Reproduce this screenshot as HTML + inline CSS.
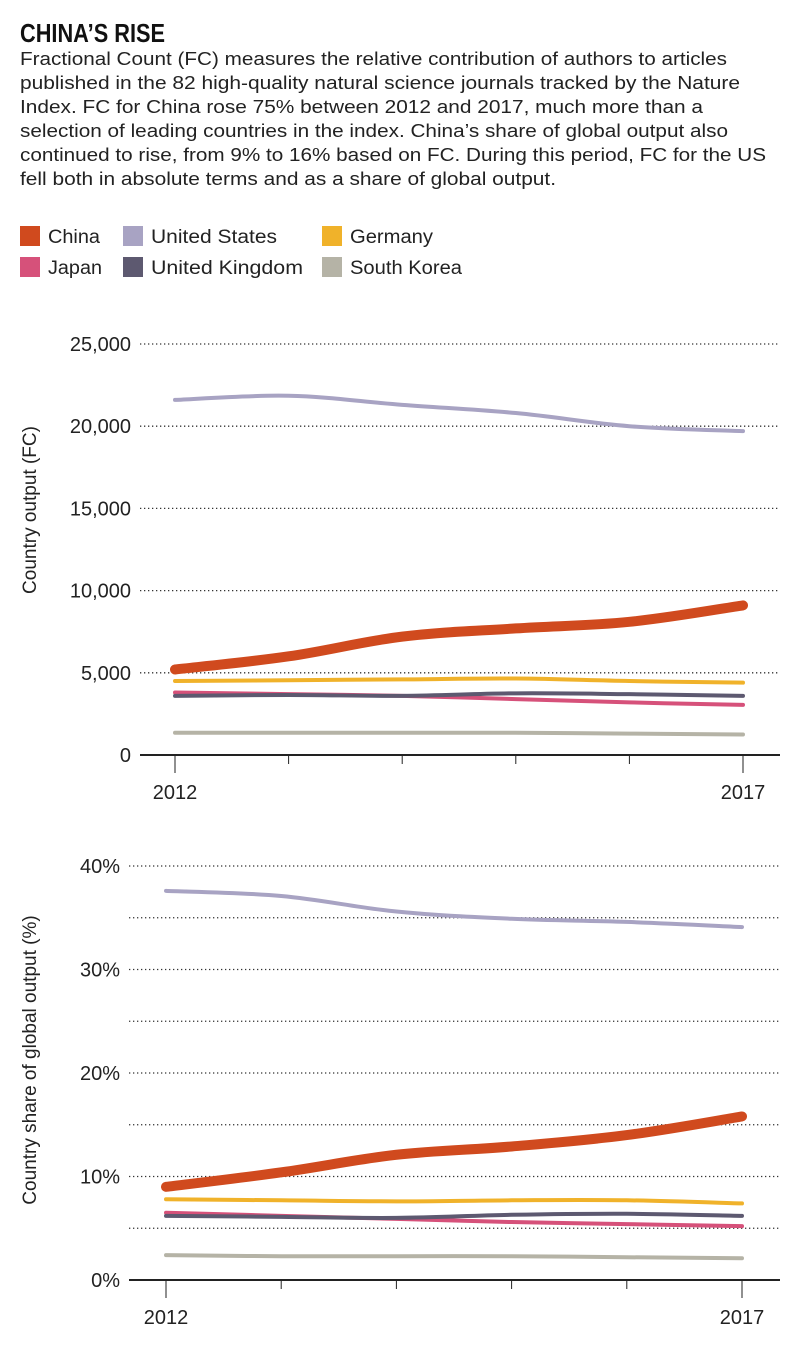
<!DOCTYPE html>
<html><head><meta charset="utf-8">
<style>
html,body{margin:0;padding:0;background:#fff;}
svg{display:block;}
text{font-family:"Liberation Sans",sans-serif;fill:#222;}
</style></head>
<body>
<svg id="chart" width="800" height="1345" viewBox="0 0 800 1345" xmlns="http://www.w3.org/2000/svg">
<g>
<text x="20" y="42" font-size="26" font-weight="bold" textLength="145" lengthAdjust="spacingAndGlyphs" style="fill:#111">CHINA’S RISE</text>
<g font-size="18">
<text x="20" y="65" textLength="707" lengthAdjust="spacingAndGlyphs">Fractional Count (FC) measures the relative contribution of authors to articles</text>
<text x="20" y="89" textLength="720" lengthAdjust="spacingAndGlyphs">published in the 82 high-quality natural science journals tracked by the Nature</text>
<text x="20" y="113" textLength="683" lengthAdjust="spacingAndGlyphs">Index. FC for China rose 75% between 2012 and 2017, much more than a</text>
<text x="20" y="137" textLength="708" lengthAdjust="spacingAndGlyphs">selection of leading countries in the index. China’s share of global output also</text>
<text x="20" y="161" textLength="746" lengthAdjust="spacingAndGlyphs">continued to rise, from 9% to 16% based on FC. During this period, FC for the US</text>
<text x="20" y="185" textLength="536" lengthAdjust="spacingAndGlyphs">fell both in absolute terms and as a share of global output.</text>
</g>
</g>
<g id="legend" font-size="19"></g>
<g id="c1"></g>
<g id="c2"></g>
</svg>
<script>
const years = [2012, 2013, 2014, 2015, 2016, 2017];
const seriesNames = ["South Korea", "Japan", "United Kingdom", "Germany", "United States", "China"];
const seriesKeys = ["korea", "japan", "uk", "germany", "us", "china"];
const outKorea = [1350, 1350, 1350, 1350, 1300, 1250];
const outJapan = [3800, 3700, 3600, 3400, 3200, 3050];
const outUK = [3600, 3650, 3600, 3750, 3700, 3600];
const outGermany = [4500, 4550, 4600, 4650, 4500, 4400];
const outUS = [21600, 21850, 21300, 20800, 20000, 19700];
const outChina = [5200, 6000, 7200, 7700, 8100, 9100];
const shareKorea = [2.4, 2.3, 2.3, 2.3, 2.2, 2.1];
const shareJapan = [6.5, 6.2, 5.9, 5.6, 5.4, 5.2];
const shareUK = [6.2, 6.1, 6.0, 6.3, 6.4, 6.2];
const shareGermany = [7.8, 7.7, 7.6, 7.7, 7.7, 7.4];
const shareUS = [37.6, 37.1, 35.6, 34.9, 34.6, 34.1];
const shareChina = [9.0, 10.4, 12.1, 12.9, 14.0, 15.8];
const outTicks = [0, 5000, 10000, 15000, 20000, 25000];
const outTickLabels = ["0", "5,000", "10,000", "15,000", "20,000", "25,000"];
const shareGrid = [5, 10, 15, 20, 25, 30, 35, 40];
const shareTicks = [0, 10, 20, 30, 40];
const shareTickLabels = ["0%", "10%", "20%", "30%", "40%"];

const colors = {korea:"#b5b3a6", japan:"#d6517a", uk:"#5d5970", germany:"#f0b22a", us:"#a8a3c3", china:"#d04a1e"};
const widths = {korea:4, japan:4, uk:4, germany:4, us:4, china:10};
const NS = "http://www.w3.org/2000/svg";
function mk(tag, attrs, parent){const e=document.createElementNS(NS,tag);for(const k in attrs)e.setAttribute(k,attrs[k]);parent.appendChild(e);return e;}

const legendItems = [["china","China",20,226,52],["us","United States",123,226,126],["germany","Germany",322,226,83],["japan","Japan",20,257,54],["uk","United Kingdom",123,257,152],["korea","South Korea",322,257,112]];
const lg = document.getElementById("legend");
legendItems.forEach(it=>{
  const g = mk("g",{},lg);
  
  
  mk("rect",{x:it[2],y:it[3],width:20,height:20,fill:colors[it[0]]},g);
  const t = mk("text",{x:it[2]+28,y:it[3]+17,textLength:it[4],lengthAdjust:"spacingAndGlyphs"},g);
  t.textContent = it[1];
});

function smoothPath(pts){
  let d = "M"+pts[0][0]+","+pts[0][1];
  for(let i=0;i<pts.length-1;i++){
    const p0=pts[Math.max(i-1,0)],p1=pts[i],p2=pts[i+1],p3=pts[Math.min(i+2,pts.length-1)];
    const t=0.18;
    const c1x=p1[0]+(p2[0]-p0[0])*t,c1y=p1[1]+(p2[1]-p0[1])*t;
    const c2x=p2[0]-(p3[0]-p1[0])*t,c2y=p2[1]-(p3[1]-p1[1])*t;
    d+=" C"+c1x+","+c1y+" "+c2x+","+c2y+" "+p2[0]+","+p2[1];
  }
  return d;
}

function drawChart(root, cfg){
  const xS = v => cfg.x0 + (v-years[0])/(years[years.length-1]-years[0])*(cfg.x1-cfg.x0);
  const yS = v => cfg.yb - v/cfg.ymax*(cfg.yb-cfg.yt);
  cfg.grid.forEach(v=>{
    if(v===0) return;
    const l = mk("line",{x1:cfg.gl,x2:780,y1:yS(v),y2:yS(v),stroke:"#333","stroke-width":1.3,"stroke-dasharray":"1.3 2.7"},root);
    
    
  });
  cfg.ticks.forEach((v,i)=>{
    const t = mk("text",{x:cfg.lx,y:yS(v)+7,"text-anchor":"end","font-size":20},root);
    
    
    t.textContent = cfg.labels[i];
  });
  const ax = mk("line",{x1:cfg.gl,x2:780,y1:cfg.yb,y2:cfg.yb,stroke:"#222","stroke-width":2},root);
  
  
  years.forEach((y,i)=>{
    const long = (i===0||i===years.length-1);
    const tk = mk("line",{x1:xS(y),x2:xS(y),y1:cfg.yb,y2:cfg.yb+(long?18:9),stroke:"#222","stroke-width":1},root);
    
    
    if(long){
      const t = mk("text",{x:xS(y),y:cfg.yb+44,"text-anchor":"middle","font-size":20},root);
      
      
      t.textContent = y;
    }
  });
  const yt = mk("text",{transform:"translate("+cfg.tx+","+cfg.ty+") rotate(-90)","text-anchor":"middle","font-size":19},root);
  
  
  yt.textContent = cfg.title;
  cfg.data.forEach((arr,i)=>{
    const key = seriesKeys[i];
    const pts = arr.map((v,j)=>[xS(years[j]),yS(v)]);
    const p = mk("path",{d:smoothPath(pts),fill:"none",stroke:colors[key],"stroke-width":widths[key],"stroke-linecap":"round","stroke-linejoin":"round"},root);
    
    
  });
}

drawChart(document.getElementById("c1"),{
  x0:175,x1:743,yb:755,yt:344,ymax:25000,gl:140,lx:131,
  grid:outTicks,ticks:outTicks,labels:outTickLabels,
  title:"Country output (FC)",tx:36,ty:510,
  data:[outKorea,outJapan,outUK,outGermany,outUS,outChina]
});
drawChart(document.getElementById("c2"),{
  x0:166,x1:742,yb:1280,yt:866,ymax:40,gl:129,lx:120,
  grid:shareGrid,ticks:shareTicks,labels:shareTickLabels,
  title:"Country share of global output (%)",tx:36,ty:1060,
  data:[shareKorea,shareJapan,shareUK,shareGermany,shareUS,shareChina]
});
</script>
</body></html>
